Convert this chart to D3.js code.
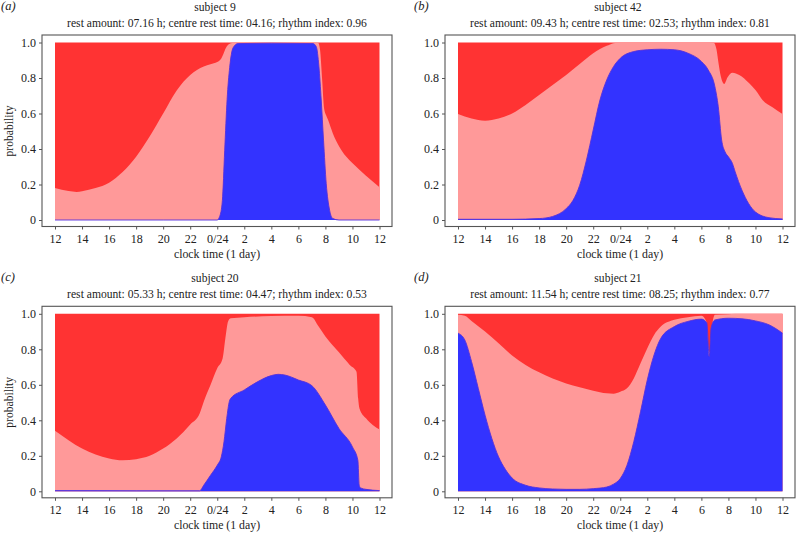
<!DOCTYPE html>
<html>
<head>
<meta charset="utf-8">
<script src="https://cdn.jsdelivr.net/npm/d3@7"></script>
<style>
  html, body { margin: 0; padding: 0; background: #fff; }
  svg { display: block; }
  text { font-family: "Liberation Serif", "Times New Roman", serif; fill: #222; }
</style>
</head>
<body>
<svg id="chart" width="796" height="535"></svg>
<script>
// ---------- data ----------
const xTickValues = [12, 14, 16, 18, 20, 22, 24, 26, 28, 30, 32, 34, 36];
const xTickLabels = ["12", "14", "16", "18", "20", "22", "0/24", "2", "4", "6", "8", "10", "12"];
const yTickValues = [0, 0.2, 0.4, 0.6, 0.8, 1.0];

const panelLetters = ["(a)", "(b)", "(c)", "(d)"];
const panelTitles = ["subject 9", "subject 42", "subject 20", "subject 21"];
const panelSubtitles = [
  "rest amount: 07.16 h; centre rest time: 04.16; rhythm index: 0.96",
  "rest amount: 09.43 h; centre rest time: 02.53; rhythm index: 0.81",
  "rest amount: 05.33 h; centre rest time: 04.47; rhythm index: 0.53",
  "rest amount: 11.54 h; centre rest time: 08.25; rhythm index: 0.77"
];

// subject 9 — upper edge of the light band (blue + pink cumulative)
const s9UpperHours = [12, 13, 13.6, 14, 15, 16, 17, 18, 19, 20, 21, 22, 23, 23.5, 24, 24.3, 24.7, 25, 25.5, 31.45, 31.6, 31.75, 31.9, 32.05, 32.2, 32.55, 33.05, 33.5, 34.03, 35.0, 36];
const s9UpperValues = [0.18, 0.163, 0.158, 0.162, 0.18, 0.21, 0.27, 0.356, 0.47, 0.60, 0.73, 0.817, 0.865, 0.878, 0.89, 0.91, 0.977, 0.996, 1.0, 1.0, 0.96, 0.8, 0.63, 0.59, 0.563, 0.488, 0.41, 0.36, 0.318, 0.249, 0.185];
// subject 9 — blue band
const s9BlueHours = [12, 20, 24.0, 24.18, 24.38, 24.55, 24.73, 24.92, 25.17, 25.54, 28, 31.08, 31.32, 31.52, 31.69, 31.86, 32.06, 32.31, 32.55, 33, 36];
const s9BlueValues = [0.0, 0.0, 0.0, 0.02, 0.11, 0.39, 0.68, 0.86, 0.97, 0.994, 0.996, 0.994, 0.977, 0.864, 0.676, 0.45, 0.205, 0.055, 0.008, 0.0, 0.0];

// subject 42
const s42UpperHours = [12, 13, 14, 15, 16, 17, 18, 19, 20, 21, 22, 23, 23.5, 24, 30.9, 31.12, 31.27, 31.44, 31.69, 31.94, 32.3, 32.8, 33.54, 34.03, 34.52, 35.26, 36];
const s42UpperValues = [0.597, 0.572, 0.559, 0.572, 0.60, 0.648, 0.704, 0.761, 0.817, 0.879, 0.94, 0.981, 0.996, 1.0, 1.0, 0.96, 0.883, 0.808, 0.766, 0.804, 0.83, 0.817, 0.77, 0.729, 0.676, 0.635, 0.597];
const s42BlueHours = [12, 16, 18, 19, 20, 20.5, 21, 21.5, 22, 22.5, 23, 23.5, 24, 25, 26, 27, 28, 29, 30, 30.5, 31, 31.25, 31.5, 31.75, 32, 32.3, 32.5, 33, 33.5, 34, 35, 36];
const s42BlueValues = [0.004, 0.004, 0.008, 0.02, 0.064, 0.11, 0.196, 0.337, 0.507, 0.676, 0.789, 0.864, 0.911, 0.949, 0.959, 0.962, 0.959, 0.94, 0.893, 0.846, 0.751, 0.638, 0.45, 0.384, 0.356, 0.318, 0.271, 0.168, 0.092, 0.045, 0.013, 0.006];

// subject 20
const s20UpperHours = [12, 13, 14, 15, 16, 17, 18, 19, 20, 21, 22, 22.7, 23, 23.5, 24, 24.4, 24.6, 24.8, 25, 26, 28, 30, 31, 31.5, 32, 33, 33.8, 34.3, 34.42, 34.52, 35, 35.5, 36];
const s20UpperValues = [0.341, 0.288, 0.241, 0.207, 0.185, 0.175, 0.181, 0.20, 0.241, 0.298, 0.377, 0.439, 0.505, 0.599, 0.693, 0.75, 0.862, 0.957, 0.975, 0.981, 0.987, 0.989, 0.981, 0.928, 0.872, 0.783, 0.712, 0.674, 0.524, 0.467, 0.411, 0.373, 0.348];
const s20BlueHours = [12, 18, 22.7, 23, 23.5, 24, 24.3, 24.5, 24.7, 24.9, 25, 26, 27, 28, 28.5, 29, 30, 31, 32, 33, 34, 34.4, 34.5, 34.6, 35, 36];
const s20BlueValues = [0.004, 0.003, 0.003, 0.034, 0.09, 0.147, 0.194, 0.279, 0.41, 0.508, 0.524, 0.571, 0.618, 0.652, 0.659, 0.655, 0.627, 0.595, 0.486, 0.354, 0.25, 0.175, 0.034, 0.019, 0.011, 0.004];

// subject 21
const s21UpperHours = [12, 12.5, 13, 14, 15, 16, 17, 18, 19, 20, 21, 22, 23, 23.5, 24, 24.5, 25, 25.5, 26, 26.5, 27, 28, 29, 30, 30.35, 30.55, 30.62, 30.75, 31, 32, 33, 36];
const s21UpperValues = [0.994, 0.989, 0.96, 0.90, 0.834, 0.765, 0.712, 0.67, 0.636, 0.608, 0.586, 0.567, 0.552, 0.55, 0.561, 0.58, 0.636, 0.721, 0.806, 0.881, 0.928, 0.966, 0.981, 0.989, 0.96, 0.8, 0.78, 0.9, 0.994, 0.998, 1.0, 1.0];
const s21BlueHours = [12, 12.5, 13, 13.5, 14, 14.5, 15, 15.5, 16, 17, 18, 19, 20, 21, 22, 23, 23.5, 24, 24.5, 25, 25.5, 26, 26.5, 27, 28, 29, 30, 30.4, 30.58, 30.72, 31, 32, 33, 34, 35, 36];
const s21BlueValues = [0.891, 0.853, 0.731, 0.58, 0.429, 0.298, 0.194, 0.124, 0.075, 0.034, 0.019, 0.013, 0.011, 0.011, 0.015, 0.024, 0.04, 0.072, 0.147, 0.279, 0.448, 0.627, 0.768, 0.862, 0.928, 0.957, 0.97, 0.95, 0.76, 0.92, 0.965, 0.975, 0.972, 0.96, 0.938, 0.891];

const upperHours = [s9UpperHours, s42UpperHours, s20UpperHours, s21UpperHours];
const upperValues = [s9UpperValues, s42UpperValues, s20UpperValues, s21UpperValues];
const blueHours = [s9BlueHours, s42BlueHours, s20BlueHours, s21BlueHours];
const blueValues = [s9BlueValues, s42BlueValues, s20BlueValues, s21BlueValues];

// ---------- layout ----------
const colRed = "#ff3333", colPink = "#ff9999", colBlue = "#3333ff";
const offsets = [[0, 0], [403, 0], [0, 271.3], [403, 271.3]];
const frame = { x0: 42, x1: 392, y0: 35, y1: 226.5 };

const svg = d3.select("#chart");

const x = d3.scaleLinear().domain([12, 36]).range([55, 379.5]);
const y = d3.scaleLinear().domain([0, 1]).range([220, 42.5]);

const area = d3.area()
  .x(d => x(d[0]))
  .y0(y(0))
  .y1(d => y(d[1]))
  .curve(d3.curveMonotoneX);
const line = d3.line()
  .x(d => x(d[0]))
  .y(d => y(d[1]))
  .curve(d3.curveMonotoneX);

offsets.forEach((off, i) => {
  const g = svg.append("g").attr("transform", `translate(${off[0]},${off[1]})`);

  // red (whole span up to 1)
  g.append("path")
    .datum([[12, 1], [36, 1]])
    .attr("d", area.curve(d3.curveLinear))
    .attr("fill", colRed);
  area.curve(d3.curveMonotoneX);

  const upper = upperHours[i].map((h, k) => [h, upperValues[i][k]]);
  const blue = blueHours[i].map((h, k) => [h, blueValues[i][k]]);

  g.append("path").datum(upper).attr("d", area).attr("fill", colPink);
  g.append("path").datum(blue).attr("d", area).attr("fill", colBlue);
  g.append("path").datum(blue).attr("d", line)
    .attr("fill", "none").attr("stroke", "#5530dd").attr("stroke-width", 0.9);

  // frame
  g.append("rect")
    .attr("x", frame.x0).attr("y", frame.y0)
    .attr("width", frame.x1 - frame.x0).attr("height", frame.y1 - frame.y0)
    .attr("fill", "none").attr("stroke", "#555").attr("stroke-width", 1.1);

  // axes
  const yAxis = d3.axisLeft(y).tickValues(yTickValues)
    .tickFormat(v => v === 0 ? "0" : d3.format(".1f")(v))
    .tickSize(3).tickPadding(3);
  const ya = g.append("g").attr("transform", `translate(${frame.x0},0)`).call(yAxis);
  ya.select(".domain").remove();
  ya.selectAll("line").attr("stroke", "#555");
  ya.selectAll("text").attr("font-size", 12).attr("fill", "#222")
    .style("font-family", '"Liberation Serif", serif');

  const xAxis = d3.axisBottom(x).tickValues(xTickValues)
    .tickFormat((v, k) => xTickLabels[k])
    .tickSize(3).tickPadding(4.5);
  const xa = g.append("g").attr("transform", `translate(0,${frame.y1})`).call(xAxis);
  xa.select(".domain").remove();
  xa.selectAll("line").attr("stroke", "#555");
  xa.selectAll("text").attr("font-size", 12).attr("fill", "#222")
    .style("font-family", '"Liberation Serif", serif');

  // texts
  g.append("text").attr("x", i % 2 === 0 ? 1 : 11).attr("y", 10)
    .attr("font-size", 12.5).attr("font-style", "italic").text(panelLetters[i]);
  g.append("text").attr("x", 215).attr("y", 10.5).attr("text-anchor", "middle")
    .attr("font-size", 11.6).text(panelTitles[i]);
  g.append("text").attr("x", 217).attr("y", 26.5).attr("text-anchor", "middle")
    .attr("font-size", 11.6).text(panelSubtitles[i]);
  g.append("text").attr("x", 217).attr("y", 257.5).attr("text-anchor", "middle")
    .attr("font-size", 11.8).text("clock time (1 day)");
  if (i % 2 === 0) {
    g.append("text").attr("transform", "translate(13,131) rotate(-90)")
      .attr("text-anchor", "middle").attr("font-size", 11.6).text("probability");
  }
});
</script>
</body>
</html>
